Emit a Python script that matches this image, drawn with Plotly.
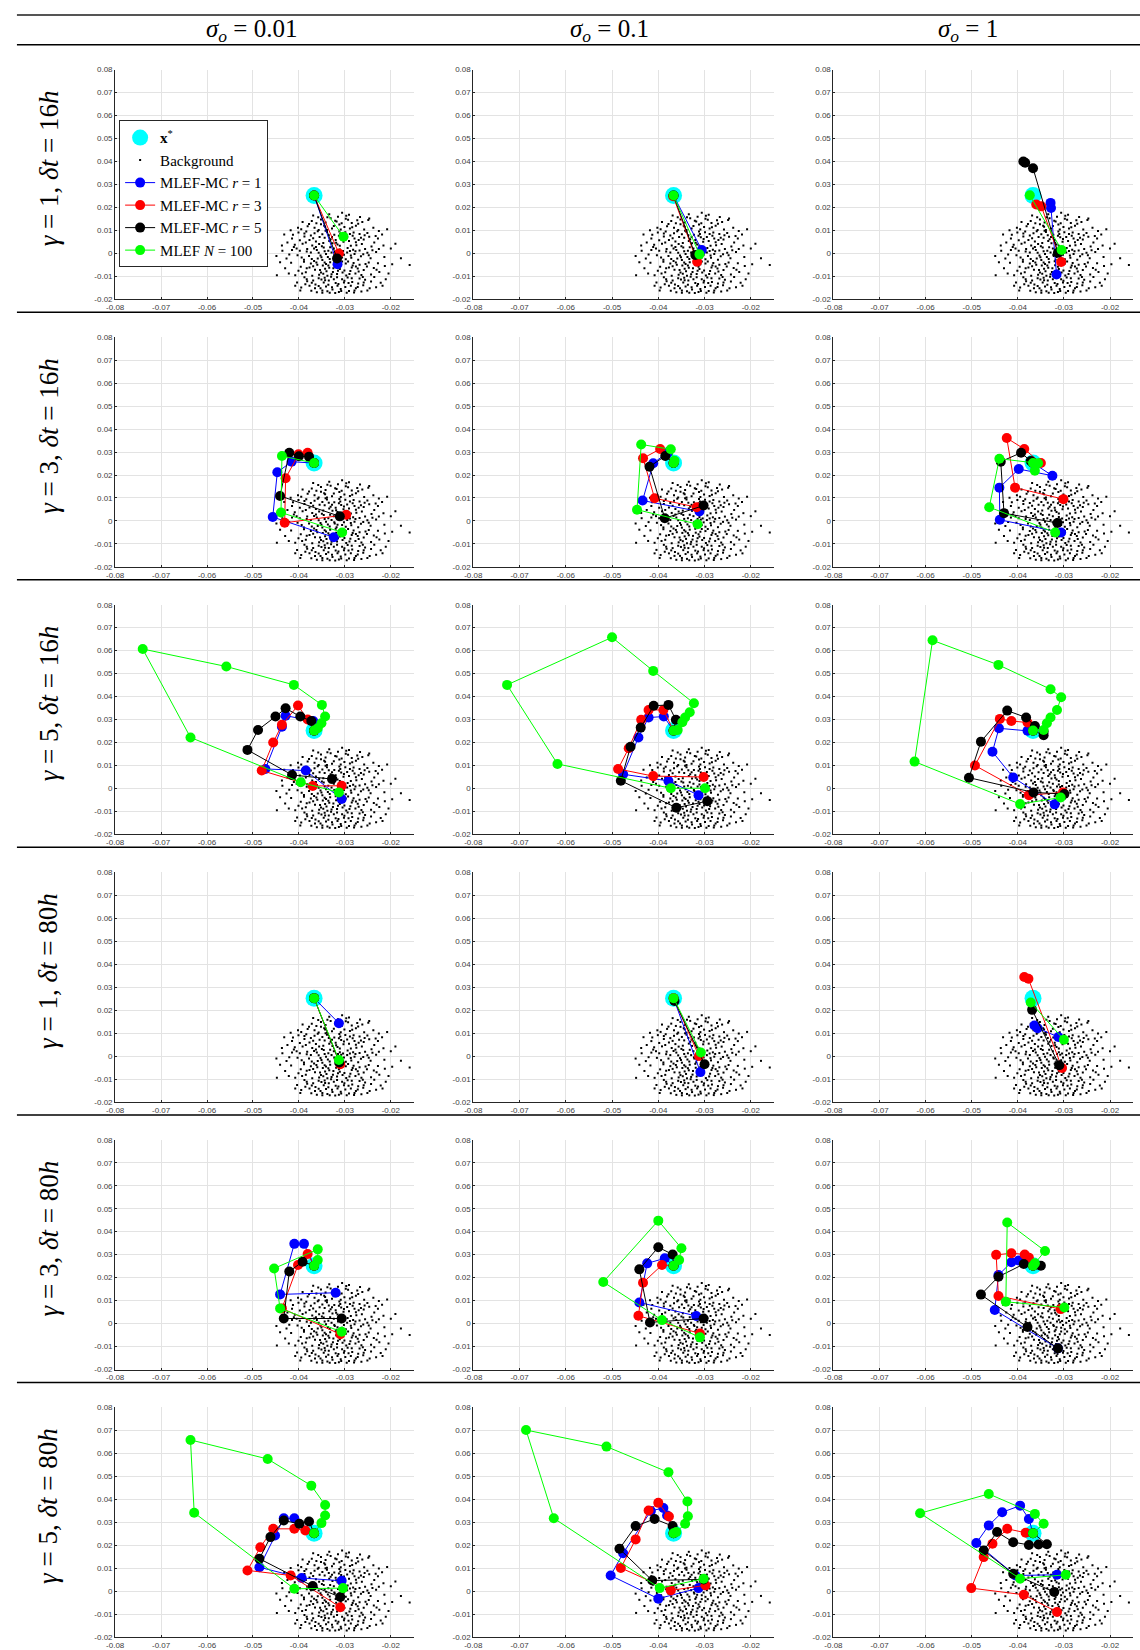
import plotly.graph_objects as go

W, H = 1140, 1650

# ---------------- data ----------------
SIGMA_LABELS = ["0.01", "0.1", "1"]
ROW_GAMMA = ["1", "3", "5", "1", "3", "5"]
ROW_DT = ["16", "16", "16", "80", "80", "80"]
X_TICKS = [-0.08, -0.07, -0.06, -0.05, -0.04, -0.03, -0.02]
X_TICKTEXT = ["-0.08", "-0.07", "-0.06", "-0.05", "-0.04", "-0.03", "-0.02"]
Y_TICKS = [-0.02, -0.01, 0, 0.01, 0.02, 0.03, 0.04, 0.05, 0.06, 0.07, 0.08]
Y_TICKTEXT = ["-0.02", "-0.01", "0", "0.01", "0.02", "0.03", "0.04", "0.05", "0.06", "0.07", "0.08"]

XSTAR = (-0.0367, 0.0252)

BACKGROUND = [
    (-0.0369, 0.0165), (-0.0306, 0.0177), (-0.0267, 0.0159), (-0.0247, 0.0152), (-0.0352, 0.0148),
    (-0.0338, 0.0158), (-0.0321, 0.0142), (-0.0298, 0.0151), (-0.0285, 0.0133), (-0.0312, 0.0126),
    (-0.0345, 0.0121), (-0.0362, 0.0131), (-0.0381, 0.0118), (-0.0395, 0.0105), (-0.0402, 0.0112),
    (-0.0328, 0.0108), (-0.0301, 0.0115), (-0.0276, 0.0121), (-0.0258, 0.0104), (-0.0249, 0.0145),
    (-0.0291, 0.0168), (-0.0334, 0.0171), (-0.0357, 0.0102), (-0.0315, 0.0160), (-0.0273, 0.0144),
    (-0.0309, 0.0104), (-0.0372, 0.0141), (-0.0238, 0.0112), (-0.0226, 0.0098), (-0.0418, 0.0101),
    (-0.0342, 0.0135), (-0.0289, 0.0109),
    (-0.0432, 0.0082), (-0.0415, 0.0065), (-0.0401, 0.0091), (-0.0388, 0.0074), (-0.0377, 0.0059),
    (-0.0366, 0.0088), (-0.0355, 0.0071), (-0.0347, 0.0045), (-0.0339, 0.0093), (-0.0331, 0.0062),
    (-0.0323, 0.0081), (-0.0316, 0.0039), (-0.0308, 0.0070), (-0.0299, 0.0092), (-0.0291, 0.0054),
    (-0.0283, 0.0077), (-0.0275, 0.0036), (-0.0268, 0.0085), (-0.0259, 0.0061), (-0.0247, 0.0073),
    (-0.0236, 0.0048), (-0.0219, 0.0082), (-0.0392, 0.0042), (-0.0371, 0.0035), (-0.0359, 0.0097),
    (-0.0344, 0.0068), (-0.0327, 0.0044), (-0.0312, 0.0096), (-0.0303, 0.0051), (-0.0287, 0.0033),
    (-0.0279, 0.0065), (-0.0263, 0.0041), (-0.0251, 0.0089), (-0.0425, 0.0048), (-0.0409, 0.0038),
    (-0.0384, 0.0095), (-0.0363, 0.0052), (-0.0335, 0.0079), (-0.0320, 0.0058), (-0.0295, 0.0072),
    (-0.0270, 0.0058), (-0.0242, 0.0030), (-0.0350, 0.0031), (-0.0228, 0.0065), (-0.0310, 0.0085),
    (-0.0449, -0.0011), (-0.0436, 0.0012), (-0.0421, -0.0005), (-0.0405, 0.0021), (-0.0394, -0.0018),
    (-0.0383, 0.0008), (-0.0372, -0.0024), (-0.0361, 0.0015), (-0.0353, -0.0009), (-0.0346, 0.0026),
    (-0.0337, -0.0015), (-0.0329, 0.0004), (-0.0318, -0.0027), (-0.0311, 0.0017), (-0.0302, -0.0006),
    (-0.0294, 0.0024), (-0.0286, -0.0019), (-0.0277, 0.0009), (-0.0265, -0.0012), (-0.0256, 0.0019),
    (-0.0244, -0.0021), (-0.0232, 0.0006), (-0.0200, 0.0021), (-0.0214, -0.0016), (-0.0411, 0.0028),
    (-0.0389, -0.0028), (-0.0367, 0.0022), (-0.0341, -0.0003), (-0.0324, 0.0021), (-0.0306, -0.0018),
    (-0.0289, 0.0011), (-0.0271, -0.0027), (-0.0251, 0.0003), (-0.0378, -0.0011), (-0.0357, 0.0003),
    (-0.0333, -0.0024), (-0.0315, 0.0009), (-0.0298, -0.0025), (-0.0282, 0.0016), (-0.0260, -0.0004),
    (-0.0427, -0.0022), (-0.0398, 0.0012), (-0.0349, -0.0029), (-0.0322, -0.0011), (-0.0240, 0.0014),
    (-0.0448, -0.0095), (-0.0430, -0.0065), (-0.0408, -0.0095), (-0.0197, -0.0047), (-0.0159, -0.0050),
    (-0.0417, -0.0041), (-0.0396, -0.0058), (-0.0385, -0.0082), (-0.0374, -0.0044), (-0.0365, -0.0071),
    (-0.0356, -0.0093), (-0.0348, -0.0052), (-0.0340, -0.0078), (-0.0332, -0.0038), (-0.0325, -0.0065),
    (-0.0317, -0.0089), (-0.0309, -0.0047), (-0.0301, -0.0074), (-0.0293, -0.0035), (-0.0285, -0.0061),
    (-0.0277, -0.0087), (-0.0268, -0.0049), (-0.0259, -0.0072), (-0.0248, -0.0039), (-0.0237, -0.0063),
    (-0.0225, -0.0081), (-0.0213, -0.0055), (-0.0389, -0.0036), (-0.0371, -0.0097), (-0.0360, -0.0049),
    (-0.0343, -0.0067), (-0.0329, -0.0091), (-0.0313, -0.0058), (-0.0297, -0.0096), (-0.0281, -0.0042),
    (-0.0264, -0.0094), (-0.0252, -0.0057), (-0.0401, -0.0075), (-0.0377, -0.0061), (-0.0352, -0.0083),
    (-0.0336, -0.0053), (-0.0320, -0.0034), (-0.0305, -0.0083), (-0.0288, -0.0077), (-0.0272, -0.0066),
    (-0.0243, -0.0092), (-0.0228, -0.0043), (-0.0367, -0.0033), (-0.0344, -0.0040), (-0.0315, -0.0075),
    (-0.0211, -0.0112), (-0.0395, -0.0148), (-0.0382, -0.0121), (-0.0373, -0.0162), (-0.0364, -0.0135),
    (-0.0357, -0.0108), (-0.0349, -0.0171), (-0.0341, -0.0144), (-0.0335, -0.0118), (-0.0327, -0.0157),
    (-0.0320, -0.0129), (-0.0313, -0.0168), (-0.0306, -0.0112), (-0.0299, -0.0146), (-0.0291, -0.0163),
    (-0.0284, -0.0124), (-0.0276, -0.0152), (-0.0268, -0.0109), (-0.0260, -0.0138), (-0.0251, -0.0161),
    (-0.0243, -0.0122), (-0.0232, -0.0147), (-0.0222, -0.0128), (-0.0388, -0.0104), (-0.0369, -0.0118),
    (-0.0353, -0.0152), (-0.0338, -0.0165), (-0.0330, -0.0101), (-0.0316, -0.0141), (-0.0302, -0.0127),
    (-0.0294, -0.0105), (-0.0280, -0.0170), (-0.0271, -0.0131), (-0.0256, -0.0115), (-0.0346, -0.0127),
    (-0.0324, -0.0112), (-0.0309, -0.0155), (-0.0287, -0.0141), (-0.0264, -0.0166), (-0.0361, -0.0169),
    (-0.0404, -0.0126), (-0.0377, -0.0141), (-0.0344, -0.0106), (-0.0296, -0.0171), (-0.0236, -0.0103),
    (-0.0352, 0.0127), (-0.0318, 0.0139), (-0.0293, 0.0147), (-0.0331, 0.0153), (-0.0366, 0.0112),
    (-0.0284, 0.0114), (-0.0307, 0.0131), (-0.0343, 0.0116), (-0.0271, 0.0129), (-0.0297, 0.0164),
    (-0.0358, 0.0157), (-0.0378, 0.0128), (-0.0324, 0.0119), (-0.0262, 0.0137), (-0.0339, 0.0102),
    (-0.0388, 0.0087), (-0.0349, 0.0083), (-0.0313, 0.0077), (-0.0281, 0.0091), (-0.0257, 0.0079),
    (-0.0369, 0.0066), (-0.0334, 0.0054), (-0.0302, 0.0063), (-0.0276, 0.0049), (-0.0398, 0.0057),
    (-0.0356, 0.0041), (-0.0319, 0.0047), (-0.0289, 0.0085), (-0.0342, 0.0099), (-0.0374, 0.0078),
    (-0.0265, 0.0068), (-0.0233, 0.0076), (-0.0311, 0.0033), (-0.0385, 0.0048), (-0.0328, 0.0071),
    (-0.0363, 0.0028), (-0.0336, 0.0012), (-0.0308, 0.0006), (-0.0279, -0.0003), (-0.0351, -0.0017),
    (-0.0323, -0.0006), (-0.0295, 0.0004), (-0.0268, 0.0013), (-0.0382, 0.0019), (-0.0344, 0.0009),
    (-0.0316, -0.0016), (-0.0287, -0.0009), (-0.0359, -0.0022), (-0.0332, 0.0027), (-0.0304, 0.0011),
    (-0.0374, 0.0004), (-0.0403, -0.0008), (-0.0248, -0.0008), (-0.0226, 0.0019), (-0.0415, 0.0015),
    (-0.0369, -0.0056), (-0.0341, -0.0046), (-0.0311, -0.0068), (-0.0283, -0.0052), (-0.0354, -0.0072),
    (-0.0326, -0.0081), (-0.0298, -0.0044), (-0.0270, -0.0079), (-0.0383, -0.0064), (-0.0347, -0.0088),
    (-0.0319, -0.0051), (-0.0290, -0.0089), (-0.0362, -0.0039), (-0.0334, -0.0062), (-0.0306, -0.0035),
    (-0.0255, -0.0046), (-0.0393, -0.0087), (-0.0338, -0.0097), (-0.0276, -0.0057), (-0.0231, -0.0071),
    (-0.0372, -0.0128), (-0.0343, -0.0117), (-0.0314, -0.0133), (-0.0285, -0.0108), (-0.0357, -0.0142),
    (-0.0328, -0.0147), (-0.0301, -0.0119), (-0.0272, -0.0146), (-0.0386, -0.0134), (-0.0349, -0.0161),
    (-0.0321, -0.0172), (-0.0292, -0.0129), (-0.0365, -0.0152), (-0.0336, -0.0136), (-0.0308, -0.0163),
    (-0.0259, -0.0127), (-0.0397, -0.0161), (-0.0246, -0.0152), (-0.0279, -0.0161), (-0.0351, -0.0113),
    (-0.0317, -0.0104), (-0.0383, -0.0112), (-0.0333, -0.0171), (-0.0218, -0.0141), (-0.0261, -0.0103),
    (-0.0441, -0.0038), (-0.0437, 0.0035), (-0.0422, -0.0087), (-0.0413, 0.0081), (-0.0408, -0.0141),
    (-0.0205, -0.0087), (-0.0190, 0.0042), (-0.0216, 0.0034), (-0.0178, -0.0021), (-0.0208, 0.0105),
    (-0.0392, 0.0137),
]

# trajectories per panel (row, column)
P11 = dict(blue=[XSTAR, (-0.0316, -0.0047)], red=[XSTAR, (-0.0313, 0.0000)],
           black=[XSTAR, (-0.0317, -0.0022)], green=[XSTAR, (-0.0303, 0.0073)])
P12 = dict(blue=[XSTAR, (-0.0306, 0.0015)], red=[(-0.0368, 0.0249), (-0.0316, -0.0036)],
           black=[XSTAR, (-0.0320, -0.0007)], green=[XSTAR, (-0.0311, -0.0004)])
P13 = dict(blue=[(-0.0329, 0.0220), (-0.0328, 0.0198), (-0.0316, -0.0092)],
           red=[(-0.0360, 0.0213), (-0.0349, 0.0205), (-0.0306, -0.0037)],
           black=[(-0.0388, 0.0400), (-0.0384, 0.0395), (-0.0367, 0.0371), (-0.0313, 0.0003)],
           green=[(-0.0374, 0.0253), (-0.0305, 0.0015)])
P21 = dict(blue=[XSTAR, (-0.0416, 0.0258), (-0.0447, 0.0212), (-0.0457, 0.0017), (-0.0324, -0.0071)],
           red=[XSTAR, (-0.0381, 0.0297), (-0.0401, 0.0290), (-0.0429, 0.0186), (-0.0431, -0.0008), (-0.0297, 0.0027)],
           black=[XSTAR, (-0.0378, 0.0280), (-0.0400, 0.0282), (-0.0421, 0.0297), (-0.0441, 0.0109), (-0.0311, 0.0020)],
           green=[XSTAR, (-0.0437, 0.0283), (-0.0439, 0.0037), (-0.0306, -0.0050)])
P22 = dict(blue=[XSTAR, (-0.0378, 0.0301), (-0.0411, 0.0251), (-0.0434, 0.0089), (-0.0311, 0.0041)],
           red=[XSTAR, (-0.0396, 0.0313), (-0.0433, 0.0273), (-0.0408, 0.0099), (-0.0317, 0.0060)],
           black=[XSTAR, (-0.0385, 0.0283), (-0.0419, 0.0236), (-0.0386, 0.0012), (-0.0302, 0.0067)],
           green=[XSTAR, (-0.0365, 0.0262), (-0.0373, 0.0312), (-0.0437, 0.0333), (-0.0446, 0.0049), (-0.0315, -0.0014)])
P23 = dict(blue=[XSTAR, (-0.0325, 0.0197), (-0.0398, 0.0226), (-0.0440, 0.0145), (-0.0439, 0.0005), (-0.0306, -0.0050)],
           red=[XSTAR, (-0.0350, 0.0252), (-0.0386, 0.0313), (-0.0424, 0.0361), (-0.0406, 0.0145), (-0.0301, 0.0095)],
           black=[XSTAR, (-0.0372, 0.0261), (-0.0393, 0.0297), (-0.0437, 0.0258), (-0.0430, 0.0034), (-0.0314, -0.0009)],
           green=[XSTAR, (-0.0363, 0.0219), (-0.0356, 0.0251), (-0.0440, 0.0271), (-0.0462, 0.0060), (-0.0319, -0.0050)])
P31 = dict(blue=[XSTAR, (-0.0369, 0.0294), (-0.0429, 0.0317), (-0.0437, 0.0269), (-0.0473, 0.0085), (-0.0385, 0.0078), (-0.0307, -0.0046)],
           red=[XSTAR, (-0.0381, 0.0300), (-0.0402, 0.0361), (-0.0437, 0.0277), (-0.0456, 0.0200), (-0.0481, 0.0078), (-0.0370, 0.0011), (-0.0307, 0.0012)],
           black=[XSTAR, (-0.0373, 0.0294), (-0.0397, 0.0313), (-0.0429, 0.0349), (-0.0451, 0.0313), (-0.0489, 0.0255), (-0.0512, 0.0168), (-0.0415, 0.0059), (-0.0328, 0.0041)],
           green=[XSTAR, (-0.0359, 0.0262), (-0.0351, 0.0284), (-0.0343, 0.0313), (-0.0350, 0.0364), (-0.0411, 0.0451), (-0.0558, 0.0531), (-0.0740, 0.0607), (-0.0636, 0.0222), (-0.0396, 0.0027), (-0.0313, -0.0017)])
P32 = dict(blue=[XSTAR, (-0.0388, 0.0313), (-0.0421, 0.0309), (-0.0443, 0.0222), (-0.0476, 0.0062), (-0.0378, 0.0033), (-0.0313, -0.0029)],
           red=[XSTAR, (-0.0389, 0.0342), (-0.0421, 0.0342), (-0.0437, 0.0299), (-0.0464, 0.0175), (-0.0487, 0.0085), (-0.0411, 0.0054), (-0.0302, 0.0050)],
           black=[XSTAR, (-0.0362, 0.0299), (-0.0378, 0.0364), (-0.0410, 0.0360), (-0.0438, 0.0265), (-0.0460, 0.0182), (-0.0481, 0.0034), (-0.0361, -0.0084), (-0.0294, -0.0055)],
           green=[XSTAR, (-0.0358, 0.0255), (-0.0348, 0.0288), (-0.0342, 0.0309), (-0.0332, 0.0332), (-0.0323, 0.0371), (-0.0411, 0.0512), (-0.0500, 0.0658), (-0.0727, 0.0451), (-0.0618, 0.0107), (-0.0373, 0.0001), (-0.0299, 0.0001)])
P33 = dict(blue=[XSTAR, (-0.0379, 0.0251), (-0.0441, 0.0262), (-0.0455, 0.0160), (-0.0410, 0.0048), (-0.0320, -0.0069)],
           red=[XSTAR, (-0.0379, 0.0287), (-0.0414, 0.0294), (-0.0439, 0.0303), (-0.0493, 0.0100), (-0.0376, -0.0029), (-0.0302, -0.0017)],
           black=[XSTAR, (-0.0344, 0.0232), (-0.0344, 0.0247), (-0.0363, 0.0272), (-0.0382, 0.0309), (-0.0423, 0.0339), (-0.0480, 0.0204), (-0.0506, 0.0047), (-0.0366, -0.0017), (-0.0299, -0.0024)],
           green=[XSTAR, (-0.0344, 0.0255), (-0.0337, 0.0284), (-0.0329, 0.0309), (-0.0315, 0.0342), (-0.0306, 0.0397), (-0.0329, 0.0432), (-0.0442, 0.0538), (-0.0585, 0.0645), (-0.0624, 0.0117), (-0.0395, -0.0068), (-0.0307, -0.0039)])
P41 = dict(blue=[XSTAR, (-0.0313, 0.0143)], red=[XSTAR, (-0.0310, -0.0036)],
           black=[XSTAR, (-0.0312, -0.0028)], green=[XSTAR, (-0.0313, -0.0017)])
P42 = dict(blue=[XSTAR, (-0.0309, -0.0070)], red=[XSTAR, (-0.0312, 0.0000)],
           black=[(-0.0365, 0.0240), (-0.0300, -0.0036)], green=[XSTAR, (-0.0308, 0.0015)])
P43 = dict(blue=[(-0.0364, 0.0133), (-0.0357, 0.0121), (-0.0312, 0.0083)],
           red=[(-0.0386, 0.0344), (-0.0377, 0.0336), (-0.0304, -0.0052)],
           black=[(-0.0369, 0.0201), (-0.0310, -0.0040)],
           green=[(-0.0372, 0.0233), (-0.0300, 0.0071)])
P51 = dict(blue=[XSTAR, (-0.0389, 0.0347), (-0.0410, 0.0347), (-0.0441, 0.0127), (-0.0320, 0.0134)],
           red=[XSTAR, (-0.0381, 0.0303), (-0.0402, 0.0255), (-0.0437, 0.0066), (-0.0310, -0.0046)],
           black=[XSTAR, (-0.0392, 0.0269), (-0.0421, 0.0227), (-0.0433, 0.0022), (-0.0307, 0.0022)],
           green=[XSTAR, (-0.0359, 0.0277), (-0.0359, 0.0323), (-0.0454, 0.0240), (-0.0441, 0.0066), (-0.0307, -0.0036)])
P52 = dict(blue=[XSTAR, (-0.0386, 0.0284), (-0.0424, 0.0262), (-0.0441, 0.0092), (-0.0318, 0.0033)],
           red=[XSTAR, (-0.0392, 0.0255), (-0.0433, 0.0178), (-0.0443, 0.0034), (-0.0310, -0.0043)],
           black=[XSTAR, (-0.0369, 0.0301), (-0.0400, 0.0332), (-0.0441, 0.0236), (-0.0418, 0.0005), (-0.0302, 0.0022)],
           green=[XSTAR, (-0.0355, 0.0277), (-0.0350, 0.0328), (-0.0400, 0.0448), (-0.0519, 0.0181), (-0.0392, 0.0015), (-0.0310, -0.0060)])
P53 = dict(blue=[XSTAR, (-0.0398, 0.0275), (-0.0414, 0.0267), (-0.0442, 0.0211), (-0.0450, 0.0059), (-0.0313, -0.0108)],
           red=[XSTAR, (-0.0376, 0.0287), (-0.0385, 0.0301), (-0.0414, 0.0306), (-0.0447, 0.0299), (-0.0442, 0.0120), (-0.0307, 0.0063)],
           black=[XSTAR, (-0.0350, 0.0252), (-0.0387, 0.0259), (-0.0442, 0.0204), (-0.0480, 0.0126), (-0.0379, -0.0015), (-0.0313, -0.0108)],
           green=[XSTAR, (-0.0363, 0.0262), (-0.0341, 0.0316), (-0.0423, 0.0440), (-0.0426, 0.0095), (-0.0299, 0.0070)])
P61 = dict(blue=[XSTAR, (-0.0410, 0.0317), (-0.0433, 0.0317), (-0.0452, 0.0242), (-0.0486, 0.0104), (-0.0394, 0.0057), (-0.0307, 0.0045)],
           red=[XSTAR, (-0.0386, 0.0264), (-0.0410, 0.0271), (-0.0456, 0.0271), (-0.0484, 0.0191), (-0.0512, 0.0090), (-0.0418, 0.0068), (-0.0310, -0.0070)],
           black=[XSTAR, (-0.0378, 0.0303), (-0.0399, 0.0293), (-0.0433, 0.0307), (-0.0462, 0.0235), (-0.0486, 0.0141), (-0.0370, 0.0022), (-0.0310, -0.0026)],
           green=[XSTAR, (-0.0351, 0.0296), (-0.0343, 0.0329), (-0.0343, 0.0375), (-0.0373, 0.0459), (-0.0468, 0.0575), (-0.0636, 0.0658), (-0.0628, 0.0341), (-0.0410, 0.0010), (-0.0304, 0.0013)])
P62 = dict(blue=[XSTAR, (-0.0381, 0.0329), (-0.0389, 0.0362), (-0.0416, 0.0349), (-0.0476, 0.0165), (-0.0503, 0.0068), (-0.0400, -0.0033), (-0.0313, 0.0013)],
           red=[XSTAR, (-0.0377, 0.0325), (-0.0400, 0.0384), (-0.0421, 0.0351), (-0.0449, 0.0225), (-0.0481, 0.0101), (-0.0373, 0.0003), (-0.0298, 0.0025)],
           black=[XSTAR, (-0.0369, 0.0283), (-0.0408, 0.0314), (-0.0449, 0.0283), (-0.0484, 0.0184), (-0.0413, 0.0046), (-0.0302, 0.0051)],
           green=[XSTAR, (-0.0361, 0.0257), (-0.0342, 0.0293), (-0.0336, 0.0326), (-0.0337, 0.0390), (-0.0378, 0.0517), (-0.0512, 0.0629), (-0.0686, 0.0701), (-0.0626, 0.0317), (-0.0397, 0.0013), (-0.0302, 0.0054)])
P63 = dict(blue=[XSTAR, (-0.0376, 0.0314), (-0.0395, 0.0372), (-0.0434, 0.0343), (-0.0463, 0.0286), (-0.0490, 0.0209), (-0.0405, 0.0068), (-0.0315, 0.0071)],
           red=[XSTAR, (-0.0383, 0.0254), (-0.0423, 0.0271), (-0.0455, 0.0206), (-0.0474, 0.0148), (-0.0501, 0.0013), (-0.0387, -0.0016), (-0.0315, -0.0091)],
           black=[XSTAR, (-0.0337, 0.0204), (-0.0355, 0.0203), (-0.0376, 0.0201), (-0.0410, 0.0213), (-0.0445, 0.0257), (-0.0474, 0.0177), (-0.0410, 0.0075), (-0.0321, -0.0004)],
           green=[XSTAR, (-0.0344, 0.0293), (-0.0363, 0.0336), (-0.0463, 0.0423), (-0.0612, 0.0339), (-0.0395, 0.0054), (-0.0296, 0.0071)])

PANELS = [[P11, P12, P13], [P21, P22, P23], [P31, P32, P33],
          [P41, P42, P43], [P51, P52, P53], [P61, P62, P63]]

SERIES = [("blue", "#0000ff", "MLEF-MC <i>r</i> = 1"),
          ("red", "#ff0000", "MLEF-MC <i>r</i> = 3"),
          ("black", "#000000", "MLEF-MC <i>r</i> = 5"),
          ("green", "#00ff00", "MLEF <i>N</i> = 100")]

# ---------------- layout geometry (pixels) ----------------
COL_PX = [(107, 408), (468, 771), (831, 1133)]
ROW_TOP0, ROW_H, ROW_PITCH = 66, 231, 269

fig = go.Figure()
layout = {}
bgx = [p[0] for p in BACKGROUND]
bgy = [p[1] for p in BACKGROUND]

for r in range(6):
    top = ROW_TOP0 + r * ROW_PITCH
    bot = top + ROW_H
    for c in range(3):
        k = r * 3 + c + 1
        xa = "x" if k == 1 else f"x{k}"
        ya = "y" if k == 1 else f"y{k}"
        first = (k == 1)
        fig.add_trace(go.Scatter(x=[XSTAR[0]], y=[XSTAR[1]], mode="markers", xaxis=xa, yaxis=ya,
                                 marker=dict(color="#00ffff", size=17),
                                 name="<b>x</b><sup>*</sup>", showlegend=first, legendrank=1))
        fig.add_trace(go.Scatter(x=bgx, y=bgy, mode="markers", xaxis=xa, yaxis=ya,
                                 marker=dict(color="black", size=2, symbol="square"),
                                 name="Background", showlegend=first, legendrank=2,
                                 hoverinfo="skip"))
        panel = PANELS[r][c]
        for i, (key, color, label) in enumerate(SERIES):
            pts = panel[key]
            fig.add_trace(go.Scatter(x=[p[0] for p in pts], y=[p[1] for p in pts],
                                     mode="lines+markers", xaxis=xa, yaxis=ya,
                                     line=dict(color=color, width=1),
                                     marker=dict(color=color, size=10),
                                     name=label, showlegend=first, legendrank=3 + i))
        axcommon = dict(showline=True, linecolor="#262626", linewidth=1,
                        showgrid=True, gridcolor="#e3e3e3", gridwidth=1,
                        zeroline=False, ticks="inside", ticklen=2, tickcolor="#262626",
                        tickfont=dict(family="Liberation Sans, Arial", size=8, color="#404040"),
                        mirror=False)
        layout[f"xaxis{'' if k == 1 else k}"] = dict(
            axcommon, domain=[COL_PX[c][0] / W, COL_PX[c][1] / W], anchor=ya,
            range=[-0.08, -0.015], tickvals=X_TICKS, ticktext=X_TICKTEXT)
        layout[f"yaxis{'' if k == 1 else k}"] = dict(
            axcommon, domain=[1 - bot / H, 1 - top / H], anchor=xa,
            range=[-0.02, 0.08], tickvals=Y_TICKS, ticktext=Y_TICKTEXT)

annotations = []
HEAD_X = [244, 605, 967]
for c in range(3):
    annotations.append(dict(text=f"<i>σ<sub>o</sub></i> = {SIGMA_LABELS[c]}", x=HEAD_X[c] / W,
                            y=1 - 27 / H, xref="paper", yref="paper", showarrow=False,
                            xanchor="center", yanchor="middle",
                            font=dict(family="Liberation Serif", size=25, color="black")))
for r in range(6):
    top = ROW_TOP0 + r * ROW_PITCH
    cy = top + ROW_H / 2 - 16
    annotations.append(dict(text=f"<i>γ</i> = {ROW_GAMMA[r]}, <i>δt</i> = {ROW_DT[r]}<i>h</i>",
                            x=40 / W, y=1 - cy / H, xref="paper", yref="paper", showarrow=False,
                            textangle=-90, xanchor="center", yanchor="middle",
                            font=dict(family="Liberation Serif", size=27, color="black")))

shapes = [dict(type="line", xref="paper", yref="paper", x0=8 / W, x1=1, y0=1 - 11 / H, y1=1 - 11 / H,
               line=dict(color="#555555", width=2)),
          dict(type="line", xref="paper", yref="paper", x0=8 / W, x1=1, y0=1 - 41 / H, y1=1 - 41 / H,
               line=dict(color="black", width=1.5))]
for yy in [310, 579, 848, 1117, 1386]:
    shapes.append(dict(type="line", xref="paper", yref="paper", x0=8 / W, x1=1,
                       y0=1 - yy / H, y1=1 - yy / H, line=dict(color="black", width=1.5)))

fig.update_layout(
    width=W, height=H, margin=dict(l=0, r=0, t=0, b=0),
    paper_bgcolor="white", plot_bgcolor="white",
    annotations=annotations, shapes=shapes,
    legend=dict(x=111 / W, y=1 - 117 / H, xanchor="left", yanchor="top",
                bgcolor="white", bordercolor="#262626", borderwidth=1,
                font=dict(family="Liberation Serif", size=15, color="black"),
                itemwidth=30, tracegroupgap=0, traceorder="normal"),
    **layout,
)

fig.write_html("out.html")
